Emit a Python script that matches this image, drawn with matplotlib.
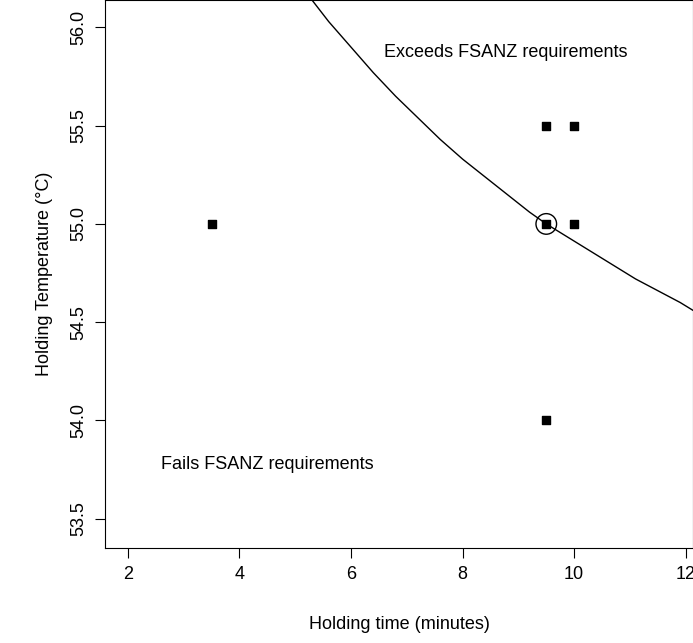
import matplotlib
matplotlib.use("Agg")
import matplotlib.pyplot as plt

plt.rcParams['font.family'] = ['Liberation Sans', 'DejaVu Sans']

# observed trial points
hold_time = [3.5, 9.5, 9.5, 10.0, 10.0, 9.5]
hold_temp = [55.0, 55.0, 55.5, 55.5, 55.0, 54.0]
# FSANZ boundary curve
curve_time = [5.3, 5.6, 6.0, 6.4, 6.8, 7.2, 7.6, 8.0, 8.4, 8.8, 9.2, 9.5,
              9.9, 10.3, 10.7, 11.1, 11.5, 11.9, 12.13]
curve_temp = [56.14, 56.03, 55.90, 55.77, 55.65, 55.54, 55.43, 55.33, 55.24,
              55.15, 55.06, 55.0, 54.93, 54.86, 54.79, 54.72, 54.66, 54.60, 54.56]
xticks = [2, 4, 6, 8, 10, 12]
yticks = [53.5, 54.0, 54.5, 55.0, 55.5, 56.0]

fig = plt.figure(figsize=(6.93, 6.43), dpi=100)
ax = fig.add_axes([0.1515, 0.1477, 0.8485, 0.8523])
ax.plot(curve_time, curve_temp, color='black', lw=1)
ax.scatter(hold_time, hold_temp, marker='s', s=40, color='black', zorder=3)
ax.scatter([9.5], [55.0], marker='o', s=220, facecolors='none', edgecolors='black', lw=1, zorder=4)
ax.set_xlim(1.59, 12.13)
ax.set_ylim(53.35, 56.14)
ax.set_xticks(xticks)
ax.set_xticklabels([str(v) for v in xticks], fontsize=13)
ax.set_yticks(yticks)
ax.set_yticklabels(["%.1f" % v for v in yticks], fontsize=13, rotation=90, va='center')
ax.tick_params(length=7, pad=6)
ax.set_xlabel("Holding time (minutes)", fontsize=13, labelpad=24)
ax.set_ylabel("Holding Temperature (\u00b0C)", fontsize=13, labelpad=12)
ax.text(6.6, 55.85, "Exceeds FSANZ requirements", fontsize=13)
ax.text(2.6, 53.75, "Fails FSANZ requirements", fontsize=13)
fig.savefig("out.png")
